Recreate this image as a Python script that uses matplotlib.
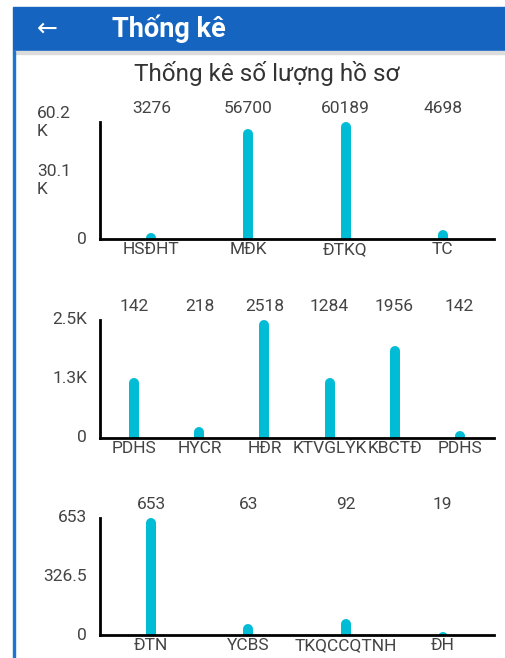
import matplotlib
matplotlib.use("Agg")
import matplotlib.pyplot as plt
from matplotlib.patches import Rectangle
from matplotlib.transforms import offset_copy

plt.rcParams['font.family'] = ['Roboto', 'DejaVu Sans']

# chart 1
cats1 = ["HSĐHT", "MĐK", "ĐTKQ", "TC"]
vals1 = [3276, 56700, 60189, 4698]
ytick1 = ["0", "30.1\nK", "60.2\nK"]

# chart 2 (bar heights as drawn, numbers as printed above)
cats2 = ["PDHS", "HYCR", "HĐR", "KTVGLÝK", "KBCTĐ", "PDHS"]
heights2 = [1284, 218, 2518, 1284, 1956, 142]
nums2 = [142, 218, 2518, 1284, 1956, 142]
ytick2 = ["0", "1.3K", "2.5K"]

# chart 3
cats3 = ["ĐTN", "YCBS", "TKQCCQTNH", "ĐH"]
vals3 = [653, 63, 92, 19]
ytick3 = ["0", "326.5", "653"]

W, H = 506, 658
BAR = "#00BCD4"
TXT = "#444444"
FS = 12.5

fig = plt.figure(figsize=(W / 100, H / 100), dpi=100)
fig.patch.set_facecolor("white")

# app bar
fig.patches.append(Rectangle((13 / W, 1 - 51 / H), 1, 44 / H, transform=fig.transFigure,
                             color="#1565C0", zorder=0))
fig.patches.append(Rectangle((13 / W, 1 - 54 / H), 1, 3 / H, transform=fig.transFigure,
                             color="#dcdcdc", zorder=0))
fig.patches.append(Rectangle((13 / W, 0), 2.5 / W, 1 - 51 / H, transform=fig.transFigure,
                             color="#1976D2", zorder=0))
fig.text(47 / W, 1 - 29 / H, "←", color="white", fontsize=18, ha="center", va="center",
         family=["DejaVu Sans"])
fig.text(112 / W, 1 - 29 / H, "Thống kê", color="white", fontsize=19.5, fontweight="bold",
         ha="left", va="center")
fig.text(267 / W, 1 - 73 / H, "Thống kê số lượng hồ sơ", color="#333333", fontsize=17.5,
         ha="center", va="center")


def chart(top_px, base_px, cats, heights, nums, ylabels, ymax):
    extra = 1.06
    t = base_px - (base_px - top_px) * extra
    ax = fig.add_axes([100 / W, 1 - base_px / H, 394 / W, (base_px - t) / H])
    n = len(cats)
    x = list(range(n))
    ax.set_xlim(-0.53, n - 0.47)
    ax.set_ylim(0, ymax * extra)
    for s in ["top", "right"]:
        ax.spines[s].set_visible(False)
    for s in ["left", "bottom"]:
        ax.spines[s].set_linewidth(2)
        ax.spines[s].set_color("black")
        ax.spines[s].set_zorder(3)
    ax.spines["left"].set_bounds(0, ymax)
    # rounded bars: shift down by cap radius so the round top ends at the value
    tr = offset_copy(ax.transData, fig=fig, y=-5, units="dots")
    lc = ax.vlines(x, 0, heights, colors=BAR, linewidth=7.2, transform=tr)
    lc.set_capstyle("round")
    ax.set_xticks(x, cats)
    ax.set_yticks([])
    ax.tick_params(length=0, labelsize=FS, labelcolor=TXT)
    ax.tick_params(axis="x", pad=2.5)
    # y labels: short ones right-aligned by the axis, wrapped ones left-aligned further out
    for v, lab in zip([0, ymax / 2, ymax], ylabels):
        if "\n" in lab:
            trl = offset_copy(ax.get_yaxis_transform(), fig=fig, x=-63, units="dots")
            ax.text(0, v, lab, transform=trl, ha="left", va="center", fontsize=FS,
                    color=TXT, linespacing=1.25)
        else:
            trl = offset_copy(ax.get_yaxis_transform(), fig=fig, x=-13, units="dots")
            ax.text(0, v, lab, transform=trl, ha="right", va="center", fontsize=FS,
                    color=TXT)
    for i, v in enumerate(nums):
        ax.annotate(str(v), (i, ymax), xytext=(0, 10), textcoords="offset points",
                    ha="center", va="center", fontsize=FS, color=TXT,
                    annotation_clip=False)
    return ax


chart(122, 239, cats1, vals1, vals1, ytick1, max(vals1))
chart(320, 437.5, cats2, heights2, nums2, ytick2, max(heights2))
chart(518, 635, cats3, vals3, vals3, ytick3, max(vals3))

fig.savefig("out.png", dpi=100, facecolor="white")
